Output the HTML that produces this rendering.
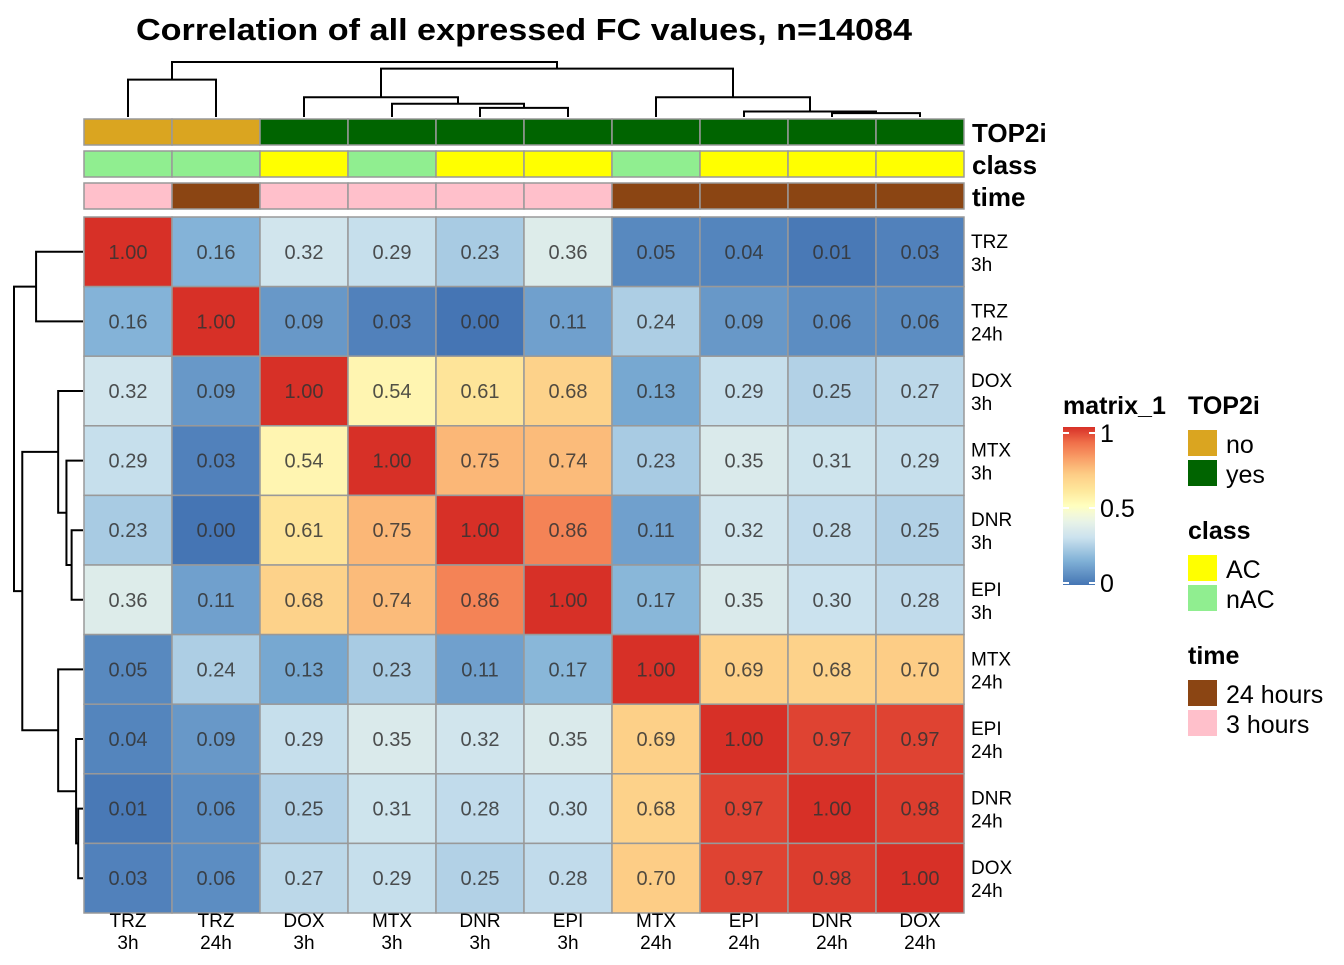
<!DOCTYPE html>
<html><head><meta charset="utf-8"><style>
body{margin:0;background:#fff}
svg{font-family:"Liberation Sans",Arial,sans-serif}
</style></head><body>
<svg id="c" width="1344" height="960" xmlns="http://www.w3.org/2000/svg">
<text x="524" y="40" text-anchor="middle" font-size="31" font-weight="bold" textLength="776" lengthAdjust="spacingAndGlyphs">Correlation of all expressed FC values, n=14084</text>
</svg>
<script>
const labels=["TRZ|3h","TRZ|24h","DOX|3h","MTX|3h","DNR|3h","EPI|3h","MTX|24h","EPI|24h","DNR|24h","DOX|24h"];
const top2i=["no","no","yes","yes","yes","yes","yes","yes","yes","yes"];
const cls=["nAC","nAC","AC","nAC","AC","AC","nAC","AC","AC","AC"];
const time=["3 hours","24 hours","3 hours","3 hours","3 hours","3 hours","24 hours","24 hours","24 hours","24 hours"];
const r0=[1.00,0.16,0.32,0.29,0.23,0.36,0.05,0.04,0.01,0.03];
const r1=[0.16,1.00,0.09,0.03,0.00,0.11,0.24,0.09,0.06,0.06];
const r2=[0.32,0.09,1.00,0.54,0.61,0.68,0.13,0.29,0.25,0.27];
const r3=[0.29,0.03,0.54,1.00,0.75,0.74,0.23,0.35,0.31,0.29];
const r4=[0.23,0.00,0.61,0.75,1.00,0.86,0.11,0.32,0.28,0.25];
const r5=[0.36,0.11,0.68,0.74,0.86,1.00,0.17,0.35,0.30,0.28];
const r6=[0.05,0.24,0.13,0.23,0.11,0.17,1.00,0.69,0.68,0.70];
const r7=[0.04,0.09,0.29,0.35,0.32,0.35,0.69,1.00,0.97,0.97];
const r8=[0.01,0.06,0.25,0.31,0.28,0.30,0.68,0.97,1.00,0.98];
const r9=[0.03,0.06,0.27,0.29,0.25,0.28,0.70,0.97,0.98,1.00];
const M=[r0,r1,r2,r3,r4,r5,r6,r7,r8,r9];
// dendrogram merges: [left, right, height]; leaves are indices, clusters "cN"
const merges=[[8,9,0.07],[7,"c0",0.10],[4,5,0.165],[3,"c2",0.24],[2,"c3",0.36],[6,"c1",0.36],[0,1,0.68],["c4","c5",0.88],["c6","c7",1.0]];
const colTop2i={no:"#DAA520",yes:"#006400"},colCls={AC:"#FFFF00",nAC:"#90EE90"},colTime={"24 hours":"#8B4513","3 hours":"#FFC0CB"};
const NS="http://www.w3.org/2000/svg",svg=document.getElementById('c');
function el(t,a,p){const e=document.createElementNS(NS,t);for(const k in a)e.setAttribute(k,a[k]);(p||svg).appendChild(e);return e;}
const X0=84,X1=964,Y0=217,Y1=913,cw=(X1-X0)/10,ch=(Y1-Y0)/10;
const cx=i=>X0+cw*i+cw/2, cy=i=>Y0+ch*i+ch/2;
const stops=[[0,"#4575b4"],[0.15,"#7fb0d6"],[0.3,"#cbe2ee"],[0.42,"#eef6e6"],[0.5,"#ffffbf"],[0.6,"#fee79b"],[0.7,"#fdcd86"],[0.8,"#f9a068"],[0.9,"#f0704a"],[1,"#d73027"]];
function hex(h){return [1,3,5].map(i=>parseInt(h.substr(i,2),16));}
function color(v){for(let i=1;i<stops.length;i++){if(v<=stops[i][0]){const [a,ca]=stops[i-1],[b,cb]=stops[i];const t=(v-a)/(b-a),A=hex(ca),B=hex(cb);return `rgb(${A.map((x,k)=>Math.round(x+(B[k]-x)*t)).join(',')})`;}}return stops[stops.length-1][1];}
M.forEach((row,i)=>row.forEach((v,j)=>{
 const r=el('rect',{x:X0+cw*j,y:Y0+ch*i,width:cw,height:ch,fill:color(v),stroke:"#999","stroke-width":1.5});
 
 
 const t=el('text',{x:cx(j),y:cy(i)+7,"text-anchor":"middle","font-size":20,fill:"#333","fill-opacity":0.85});
 t.textContent=v.toFixed(2);
 
 
}));
const ann=[["TOP2i",top2i,colTop2i,119],["class",cls,colCls,151],["time",time,colTime,183]];
ann.forEach(([nm,arr,cm,y])=>{
 arr.forEach((v,j)=>{const r=el('rect',{x:X0+cw*j,y:y,width:cw,height:26,fill:cm[v],stroke:"#999","stroke-width":1.5});
 
 });
 const t=el('text',{x:972,y:y+23,"font-size":26,"font-weight":"bold"});t.textContent=nm;
 
 
});
labels.forEach((l,i)=>{const [a,b]=l.split('|');
 const t=el('text',{x:971,y:cy(i)-4,"font-size":19});t.textContent=a;
 
 
 const t2=el('text',{x:971,y:cy(i)+19,"font-size":19});t2.textContent=b;
 
 
 const c=el('text',{x:cx(i),y:927,"font-size":19,"text-anchor":"middle"});c.textContent=a;
 
 
 const c2=el('text',{x:cx(i),y:949,"font-size":19,"text-anchor":"middle"});c2.textContent=b;
 
 
});
function dend(horizontal){
 const pos=[],ht=[];const base=horizontal?117:83, span=horizontal?55:69;
 const P=i=>typeof i==="number"?(horizontal?cx(i):cy(i)):pos[+i.slice(1)];
 const H=i=>typeof i==="number"?0:ht[+i.slice(1)];
 const g=el('g',{stroke:"#000","stroke-width":2,fill:"none"});
 
 
 merges.forEach(([a,b,h],k)=>{
  const pa=P(a),pb=P(b),ha=H(a),hb=H(b);
  const L=v=>base-v*span;
  let d;
  if(horizontal)d=`M${pa},${L(ha)}V${L(h)}H${pb}V${L(hb)}`;
  else d=`M${L(ha)},${pa}H${L(h)}V${pb}H${L(hb)}`;
  const p=el('path',{d:d},g);
  
  
  pos[k]=(pa+pb)/2;ht[k]=h;
 });
}
dend(true);dend(false);
const defs=el('defs',{});const lg=el('linearGradient',{id:"grad",x1:0,y1:1,x2:0,y2:0},defs);
for(let i=0;i<=20;i++)el('stop',{offset:i/20,"stop-color":color(i/20)},lg);
let t=el('text',{x:1063,y:414,"font-size":25,"font-weight":"bold"});t.textContent="matrix_1";

const cb=el('rect',{x:1063,y:427,width:32,height:158,fill:"url(#grad)"});

[[1,"1"],[0.5,"0.5"],[0,"0"]].forEach(([v,s])=>{const y=583-v*150;
 el('line',{x1:1063,x2:1069,y1:y,y2:y,stroke:"#fff","stroke-width":2});
 el('line',{x1:1089,x2:1095,y1:y,y2:y,stroke:"#fff","stroke-width":2});
 const tt=el('text',{x:1100,y:y+9,"font-size":25});tt.textContent=s;
 });
const leg=[["TOP2i",414,[["no","#DAA520"],["yes","#006400"]]],["class",539,[["AC","#FFFF00"],["nAC","#90EE90"]]],["time",664,[["24 hours","#8B4513"],["3 hours","#FFC0CB"]]]];
leg.forEach(([nm,y,items])=>{const tt=el('text',{x:1188,y:y,"font-size":25,"font-weight":"bold"});tt.textContent=nm;
 
 items.forEach(([l,c],k)=>{const yy=y+16+k*30;
  const r=el('rect',{x:1188,y:yy,width:29,height:26,fill:c});
  
  const x=el('text',{x:1226,y:yy+23,"font-size":25});x.textContent=l;
  });
});
</script>
</body></html>
